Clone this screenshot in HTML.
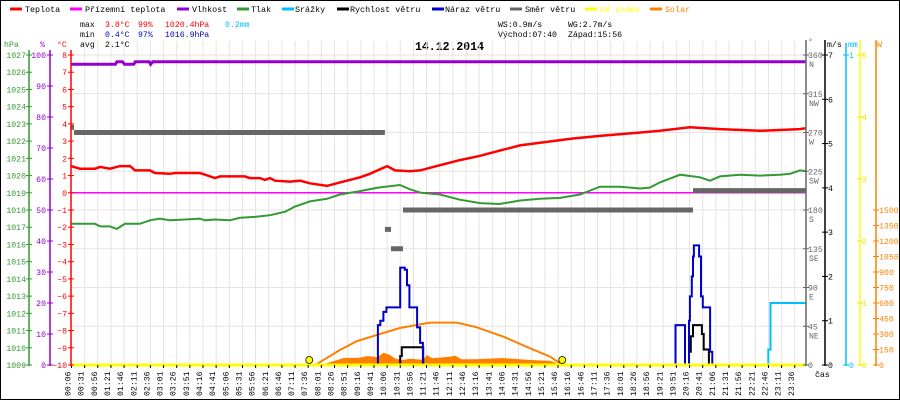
<!DOCTYPE html>
<html><head><meta charset="utf-8"><title>Weather 14.12.2014</title>
<style>
html,body{margin:0;padding:0;background:#fff;}
svg{display:block;font-family:"Liberation Mono","DejaVu Sans Mono",monospace;}
</style></head>
<body>
<svg id="chart" width="900" height="400" viewBox="0 0 900 400" xmlns="http://www.w3.org/2000/svg">
<rect x="0.5" y="0.5" width="899" height="399" fill="#fff" stroke="#000" stroke-width="1"/>
<g font-size="8.4">
 <g><line x1="10" y1="9" x2="22" y2="9" stroke="#f00" stroke-width="3"/><text x="25" y="12">Teplota</text></g>
 <g><line x1="70" y1="9" x2="82" y2="9" stroke="#f0f" stroke-width="3"/><text x="85" y="12">Přízemní teplota</text></g>
 <g><line x1="177" y1="9" x2="189" y2="9" stroke="#9400d3" stroke-width="3"/><text x="192" y="12">Vlhkost</text></g>
 <g><line x1="237" y1="9" x2="249" y2="9" stroke="#339933" stroke-width="3"/><text x="251" y="12">Tlak</text></g>
 <g><line x1="282" y1="9" x2="294" y2="9" stroke="#00bfff" stroke-width="3"/><text x="295" y="12">Srážky</text></g>
 <g><line x1="337" y1="9" x2="349" y2="9" stroke="#000" stroke-width="3"/><text x="350" y="12">Rychlost větru</text></g>
 <g><line x1="432" y1="9" x2="444" y2="9" stroke="#0000cc" stroke-width="3"/><text x="445" y="12">Náraz větru</text></g>
 <g><line x1="510" y1="9" x2="522" y2="9" stroke="#666" stroke-width="3"/><text x="525" y="12">Směr větru</text></g>
 <g><line x1="585" y1="9" x2="597" y2="9" stroke="#ff0" stroke-width="3"/><text x="600" y="12" fill="#ff0">UV index</text></g>
 <g><line x1="650" y1="9" x2="662" y2="9" stroke="#ff8000" stroke-width="3"/><text x="665" y="12" fill="#ff8000">Solar</text></g>
</g>
<g font-size="8.2">
 <text x="80" y="27">max</text>
 <text x="105" y="27" fill="#f00">3.8°C</text>
 <text x="138" y="27" fill="#f00">99%</text>
 <text x="165" y="27" fill="#f00">1020.4hPa</text>
 <text x="225" y="27" fill="#00bfff">0.2mm</text>
 <text x="80" y="37">min</text>
 <text x="105" y="37" fill="#00c">0.4°C</text>
 <text x="138" y="37" fill="#00c">97%</text>
 <text x="165" y="37" fill="#00c">1016.9hPa</text>
 <text x="80" y="47">avg</text>
 <text x="105" y="47">2.1°C</text>
 <text x="498" y="27">WS:0.9m/s</text>
 <text x="568" y="27">WG:2.7m/s</text>
 <text x="498" y="37">Východ:07:40</text>
 <text x="568" y="37">Západ:15:56</text>
</g>
<text x="415" y="50" font-size="11.5" font-weight="bold">14.12.2014</text>
<g font-size="8.2">
 <text x="4" y="47" fill="#339933">hPa</text>
 <text x="40" y="47" fill="#9400d3">%</text>
 <text x="57" y="47" fill="#f00">°C</text>
 <text x="808" y="44" fill="#666">°</text>
 <text x="827" y="47" fill="#000">m/s</text>
 <text x="848" y="47" fill="#00bfff">mm</text>
 <text x="877" y="47" fill="#ff8000">W</text>
 <text x="815" y="377" fill="#000">čas</text>
</g>
<g id="grid"></g>
<g id="series"></g>
<g id="axes" font-size="8.2"></g>
</svg>
<script>
// ---- data (hours of day, values) ----
var timeLabels = ["00:06","00:31","00:56","01:21","01:46","02:11","02:36","03:01","03:26","03:51","04:16","04:41","05:06","05:31","05:56","06:21","06:46","07:11","07:36","08:01","08:26","08:51","09:16","09:41","10:06","10:31","10:56","11:21","11:46","12:11","12:46","13:16","13:41","14:06","14:31","14:56","15:21","15:46","16:16","16:46","17:11","17:36","18:01","18:26","18:56","19:21","19:51","20:16","20:41","21:06","21:31","21:56","22:21","22:46","23:11","23:36"];
var tempTicks = [8,7,6,5,4,3,2,1,0,-1,-2,-3,-4,-5,-6,-7,-8,-9,-10];
var presTicks = [1027,1026,1025,1024,1023,1022,1021,1020,1019,1018,1017,1016,1015,1014,1013,1012,1011,1010,1009];
var humTicks = [100,90,80,70,60,50,40,30,20,10,0];
var dirTicks = [360,315,270,225,180,135,90,45,0];
var dirNames = ["N","NW","W","SW","S","SE","E","NE",""];
var windTicks = [7,6,5,4,3,2,1,0];
var rainTicks = [1,0];
var uvTicks = [5,4,3,2,1,0];
var solarTicks = [1500,1350,1200,1050,900,750,600,450,300,150,0];

var tempH = [0,0.29,0.78,0.95,1.27,1.6,1.93,2.09,2.58,2.74,3.23,3.4,4.21,4.38,4.7,4.87,5.68,5.84,6.17,6.33,6.5,6.66,7.15,7.48,7.8,8.36,8.78,9.44,9.76,10.32,10.58,11.07,11.4,12.05,12.7,13.36,14.0,14.66,15.31,16.39,17.27,18.25,19.23,20.21,21.19,22.5,23.8,24];
var tempV = [1.55,1.4,1.4,1.5,1.4,1.55,1.55,1.3,1.3,1.15,1.1,1.15,1.15,1.05,0.85,0.95,0.95,0.85,0.85,0.75,0.85,0.7,0.65,0.7,0.55,0.4,0.6,0.9,1.1,1.55,1.3,1.25,1.3,1.6,1.9,2.15,2.45,2.75,2.9,3.15,3.3,3.45,3.6,3.8,3.7,3.6,3.7,3.75];
var presH = [0,0.29,0.78,0.95,1.27,1.5,1.76,2.25,2.58,2.9,3.23,3.72,4.21,4.38,4.7,5.19,5.52,6.0,6.5,6.99,7.31,7.48,7.8,8.36,8.78,9.44,10.02,10.74,11.07,11.43,12.05,12.7,13.36,14.0,14.66,15.31,15.97,16.62,17.27,17.93,18.58,18.9,19.23,19.89,20.54,20.87,21.19,21.84,22.5,23.15,23.48,23.8,24];
var presV = [1017.2,1017.2,1017.2,1017.05,1017.05,1016.9,1017.2,1017.2,1017.4,1017.5,1017.4,1017.45,1017.5,1017.4,1017.45,1017.4,1017.55,1017.6,1017.7,1017.9,1018.2,1018.3,1018.5,1018.65,1018.9,1019.1,1019.3,1019.45,1019.2,1019.0,1018.9,1018.6,1018.4,1018.35,1018.55,1018.65,1018.7,1018.9,1019.35,1019.35,1019.25,1019.3,1019.6,1020.05,1019.9,1019.7,1019.95,1020.05,1020.0,1020.05,1020.1,1020.3,1020.25];
var humH = [0,1.45,1.5,1.68,1.75,2.05,2.1,2.55,2.6,2.67,24];
var humV = [97,97,97.8,97.8,97,97,97.8,97.8,97,97.8,97.8];
var feelH = [0,24];
var feelV = [0,0];
var gustH = [0,10.02,10.1,10.2,10.3,10.75,10.9,10.97,11.05,11.2,11.3,11.4,11.49,19.74,20.05,20.18,20.21,20.27,20.31,20.34,20.51,20.57,20.63,20.87,20.94];
var gustV = [0,0.9,1.0,1.2,1.3,2.2,2.15,1.8,1.3,1.3,0.85,0.5,0,0.9,0,1.0,1.55,2.0,2.45,2.7,2.45,1.55,1.3,0.3,0];
var speedH = [0,10.75,10.8,11.5,20.18,20.24,20.31,20.6,20.66,20.83];
var speedV = [0,0.2,0.4,0,0.3,0.65,0.9,0.7,0.35,0];
var dirStart = [0,0.1,10.25,10.45,10.84,20.31];
var dirEnd = [0.1,10.25,10.45,10.84,20.31,24];
var dirV = [276,270,157.5,135,180,202.5];
var rainH = [0,22.77,22.84];
var rainV = [0,0.05,0.2];
var uvH = [0,24];
var uvV = [0,0];
var solTH = [7.78,8.02,8.78,9.33,10.09,10.74,11.72,12.6,13.25,14.12,15.0,15.65,16.04];
var solTV = [0,8,145,230,300,358,410,410,365,274,161,80,0];
var solAH = [8.15,8.6,8.9,9.4,9.7,10.0,10.2,10.4,10.6,10.84,11.06,11.5,11.62,11.8,12.35,12.55,12.75,13.2,14.1,15.0,15.65,15.88,15.97];
var solAV = [0,40,68,70,87,75,119,100,60,48,60,50,97,65,80,90,55,55,68,48,40,15,0];
var sunH = [7.78,16.04];

// ---- axis functions ----
var X0 = 71, PXH = 30.625, Y0 = 55, YB = 365, PH = 310;
function xh(h){ return X0 + h*PXH; }
function yT(t){ return Y0 + (8 - t)*PH/18; }
function yP(p){ return yT(p - 1019); }
function yHum(v){ return YB - v*PH/100; }
function yW(v){ return YB - v*PH/7; }
function yD(d){ return YB - d*PH/360; }
function yS(w){ return YB - w*155/1500; }
function yR(r){ return YB - r*PH; }
function yUV(u){ return YB - u*PH/5; }

var NS = "http://www.w3.org/2000/svg";
function el(tag, parent){ var e = document.createElementNS(NS, tag); parent.appendChild(e); return e; }
function poly(H, V, yf){ var p = []; for (var i=0;i<H.length;i++) p.push(xh(H[i]).toFixed(1)+","+yf(V[i]).toFixed(1)); return p.join(" "); }
function step(H, V, yf, endH){ var d = "M"+xh(H[0]).toFixed(1)+" "+yf(V[0]).toFixed(1); for (var i=1;i<H.length;i++){ d += " H"+xh(H[i]).toFixed(1)+" V"+yf(V[i]).toFixed(1); } d += " H"+xh(endH).toFixed(1); return d; }

var grid = document.getElementById("grid");
var series = document.getElementById("series");
var axes = document.getElementById("axes");

// grid
for (var k=0;k<=8;k++){
  var gl = el("line", grid);
  
  
  var gy = Y0 + k*PH/8;
  gl.setAttribute("x1", X0); gl.setAttribute("x2", 806); gl.setAttribute("y1", gy); gl.setAttribute("y2", gy);
  gl.setAttribute("stroke", "#e8e2e2"); gl.setAttribute("stroke-width", "1");
}
for (var i=0;i<timeLabels.length;i++){
  var gx = 71.5 + 13.15*i;
  if (i>0){
    var vl = el("line", grid);
    
    
    vl.setAttribute("x1", gx); vl.setAttribute("x2", gx); vl.setAttribute("y1", Y0-14); vl.setAttribute("y2", YB);
    vl.setAttribute("stroke", "#e8e2e2"); vl.setAttribute("stroke-width", "1");
  }
  var tk = el("line", axes);
  
  
  tk.setAttribute("x1", gx); tk.setAttribute("x2", gx); tk.setAttribute("y1", YB); tk.setAttribute("y2", YB+3);
  tk.setAttribute("stroke", "#000");
  var tl = el("text", axes);
  
  
  var lx = gx - 1, ly = 396;
  tl.setAttribute("x", lx); tl.setAttribute("y", ly);
  tl.setAttribute("transform", "rotate(-90 "+lx+" "+ly+")");
  tl.textContent = timeLabels[i];
}

// series: solar actual fill
var sa = el("path", series);


var sd = "M"+xh(solAH[0]).toFixed(1)+" "+YB;
for (var i=0;i<solAH.length;i++) sd += " L"+xh(solAH[i]).toFixed(1)+" "+yS(solAV[i]).toFixed(1);
sd += " L"+xh(solAH[solAH.length-1]).toFixed(1)+" "+YB+" Z";
sa.setAttribute("d", sd); sa.setAttribute("fill", "#ff8000");

var st = el("polyline", series);


st.setAttribute("points", poly(solTH, solTV, yS)); st.setAttribute("fill", "none"); st.setAttribute("stroke", "#ff8000"); st.setAttribute("stroke-width", "2");

var rn = el("path", series);


rn.setAttribute("d", step(rainH, rainV, yR, 24)); rn.setAttribute("fill", "none"); rn.setAttribute("stroke", "#00bfff"); rn.setAttribute("stroke-width", "2");

var sp = el("path", series);


sp.setAttribute("d", step(speedH, speedV, yW, 24)); sp.setAttribute("fill", "none"); sp.setAttribute("stroke", "#000"); sp.setAttribute("stroke-width", "2");

var gu = el("path", series);


gu.setAttribute("d", step(gustH, gustV, yW, 24)); gu.setAttribute("fill", "none"); gu.setAttribute("stroke", "#0000cc"); gu.setAttribute("stroke-width", "2");

var uv = el("polyline", series);


uv.setAttribute("points", poly(uvH, uvV, yUV)); uv.setAttribute("fill", "none"); uv.setAttribute("stroke", "#ff0"); uv.setAttribute("stroke-width", "3");

var fl = el("polyline", series);


fl.setAttribute("points", poly(feelH, feelV, yT)); fl.setAttribute("fill", "none"); fl.setAttribute("stroke", "#f0f"); fl.setAttribute("stroke-width", "1.5");

for (var i=0;i<dirV.length;i++){
  var db = el("line", series);
  
  
  db.setAttribute("x1", xh(dirStart[i])); db.setAttribute("x2", xh(dirEnd[i]));
  db.setAttribute("y1", yD(dirV[i])); db.setAttribute("y2", yD(dirV[i]));
  db.setAttribute("stroke", "#666"); db.setAttribute("stroke-width", "5");
}

var pr = el("polyline", series);


pr.setAttribute("points", poly(presH, presV, yP)); pr.setAttribute("fill", "none"); pr.setAttribute("stroke", "#339933"); pr.setAttribute("stroke-width", "2");

var te = el("polyline", series);


te.setAttribute("points", poly(tempH, tempV, yT)); te.setAttribute("fill", "none"); te.setAttribute("stroke", "#f00"); te.setAttribute("stroke-width", "2.5");

var hu = el("polyline", series);


hu.setAttribute("points", poly(humH, humV, yHum)); hu.setAttribute("fill", "none"); hu.setAttribute("stroke", "#9400d3"); hu.setAttribute("stroke-width", "3");

for (var i=0;i<sunH.length;i++){
  var sc = el("circle", series);
  
  
  sc.setAttribute("cx", xh(sunH[i])); sc.setAttribute("cy", YB-5); sc.setAttribute("r", "3.5");
  sc.setAttribute("fill", "#ff0"); sc.setAttribute("stroke", "#000"); sc.setAttribute("stroke-width", "0.8");
}

// axes
function vAxis(x, y1, color, name){
  var a = el("line", axes);
  
  
  a.setAttribute("x1", x); a.setAttribute("x2", x); a.setAttribute("y1", y1); a.setAttribute("y2", YB+1);
  a.setAttribute("stroke", color); a.setAttribute("stroke-width", "1.5");
}
function tick(x, y, color, name){
  var t = el("line", axes);
  
  
  t.setAttribute("x1", x-3); t.setAttribute("x2", x+3); t.setAttribute("y1", y); t.setAttribute("y2", y);
  t.setAttribute("stroke", color);
}
function label(x, y, txt, color, anchor, name){
  var t = el("text", axes);
  
  
  t.setAttribute("x", x); t.setAttribute("y", y+3); t.setAttribute("fill", color);
  if (anchor) t.setAttribute("text-anchor", anchor);
  t.textContent = txt;
}
vAxis(29, 50, "#339933", "pressure-axis");
vAxis(50, 50, "#9400d3", "humidity-axis");
vAxis(71, 50, "#f00", "temperature-axis");
vAxis(806, 40, "#666", "direction-axis");
vAxis(825, 40, "#000", "wind-axis");
vAxis(846, 43, "#00bfff", "rain-axis");
vAxis(860, 40, "#ff0", "uv-axis");
vAxis(876, 40, "#ff8000", "solar-axis");

for (var i=0;i<presTicks.length;i++){ var y = yP(presTicks[i]); tick(29, y, "#339933", "pressure-tick"); label(26, y, String(presTicks[i]), "#339933", "end", "pressure-tick-label"); }
for (var i=0;i<humTicks.length;i++){ var y = yHum(humTicks[i]); tick(50, y, "#9400d3", "humidity-tick"); label(46, y, String(humTicks[i]), "#9400d3", "end", "humidity-tick-label"); }
for (var i=0;i<tempTicks.length;i++){ var y = yT(tempTicks[i]); tick(71, y, "#f00", "temperature-tick"); label(67, y, String(tempTicks[i]).replace("-","\u2212"), "#f00", "end", "temperature-tick-label"); }
for (var i=0;i<dirTicks.length;i++){ var y = yD(dirTicks[i]); tick(806, y, "#666", "direction-tick"); label(808, y, String(dirTicks[i]), "#666", null, "direction-tick-label"); if (dirNames[i]) label(809, y+9, dirNames[i], "#666", null, "direction-compass-label"); }
for (var i=0;i<windTicks.length;i++){ var y = yW(windTicks[i]); tick(825, y, "#000", "wind-tick"); label(828, y, String(windTicks[i]), "#000", null, "wind-tick-label"); }
for (var i=0;i<rainTicks.length;i++){ var y = yR(rainTicks[i]); tick(846, y, "#00bfff", "rain-tick"); label(849, y, String(rainTicks[i]), "#00bfff", null, "rain-tick-label"); }
for (var i=0;i<uvTicks.length;i++){ var y = yUV(uvTicks[i]); tick(860, y, "#e8e800", "uv-tick"); label(862, y, String(uvTicks[i]), "#e8e800", null, "uv-tick-label"); }
for (var i=0;i<solarTicks.length;i++){ var y = yS(solarTicks[i]); tick(876, y, "#ff8000", "solar-tick"); label(879, y, String(solarTicks[i]), "#ff8000", null, "solar-tick-label"); }
</script>
</body></html>
